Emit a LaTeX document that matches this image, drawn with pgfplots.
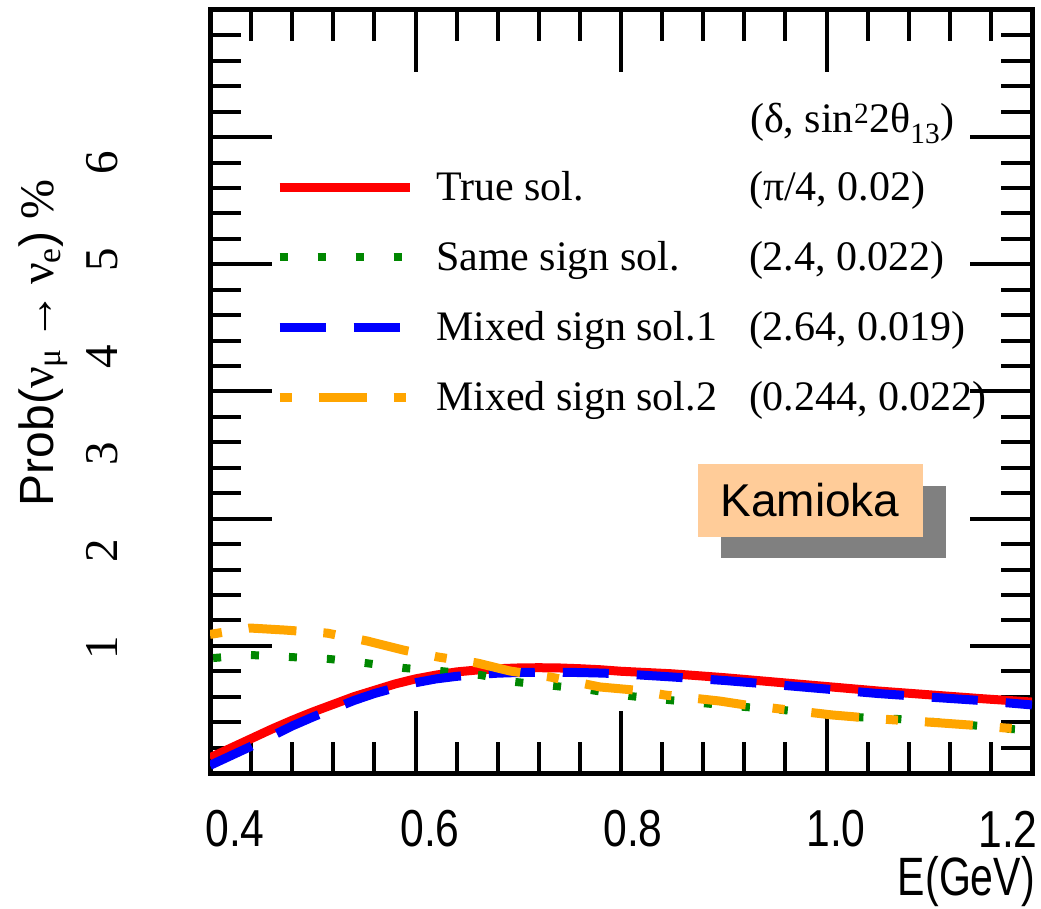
\documentclass[border=0pt]{standalone}
\usepackage{pgfplots}
\pgfplotsset{compat=1.18}
\usepackage{fontspec}
\usepackage{graphicx}
\setmainfont{Liberation Serif}
\setsansfont{Liberation Sans}
\newfontfamily\serif{Liberation Serif}
\newfontfamily\sans{Liberation Sans}
\definecolor{peach}{RGB}{255,204,153}
\definecolor{shadowgray}{RGB}{128,128,128}
\definecolor{myorange}{RGB}{255,165,0}
\definecolor{mygreen}{RGB}{0,135,0}
\definecolor{myblue}{RGB}{0,0,255}
\definecolor{myred}{RGB}{255,0,0}
\begin{document}
\begin{tikzpicture}[x=1pt,y=1pt]
\useasboundingbox (0,0) rectangle (1041,908);
\begin{axis}[
  at={(210pt,135pt)}, anchor=south west,
  scale only axis, width=822pt, height=763pt,
  xmin=0.4, xmax=1.2, ymin=0, ymax=6,
  xtick={0.4,0.6,0.8,1.0,1.2},
  ytick={0,1,2,3,4,5,6},
  minor x tick num=4, minor y tick num=4,
  xticklabels={}, yticklabels={},
  major tick length=62pt, minor tick length=31pt,
  every tick/.style={black, line width=4pt},
  axis line style={line width=5pt},
  legend cell align=left,
  legend image code/.code={\draw[#1] (0pt,3pt) -- (130pt,3pt);},
  legend style={draw=none, fill=none, inner sep=0pt, outer sep=0pt,
    at={(0.0791,0.7900)}, anchor=north west,
    row sep=30pt, column sep=22pt,
    font=\serif\fontsize{42}{48}\selectfont,
    nodes={inner sep=0pt, text height=30pt, text depth=10pt}},
]
\addplot[myred, line width=9pt] coordinates {
(0.40,0.12) (0.42,0.195) (0.44,0.27) (0.46,0.345) (0.48,0.415) (0.50,0.48)
(0.52,0.54) (0.54,0.60) (0.56,0.65) (0.58,0.70) (0.60,0.74) (0.62,0.77)
(0.64,0.795) (0.66,0.81) (0.68,0.82) (0.70,0.826) (0.72,0.828) (0.74,0.826)
(0.76,0.82) (0.78,0.812) (0.80,0.80) (0.85,0.78) (0.90,0.75) (0.95,0.715)
(1.00,0.68) (1.05,0.645) (1.10,0.615) (1.15,0.585) (1.20,0.558)};
\addlegendentry{\makebox[313pt][l]{True sol.}(π/4, 0.02)}
\addplot[mygreen, line width=8pt, dash pattern=on 8pt off 30pt] coordinates {
(0.403,0.904) (0.439,0.928) (0.478,0.912) (0.517,0.896) (0.551,0.865)
(0.588,0.826) (0.624,0.802) (0.663,0.771) (0.697,0.716) (0.736,0.684)
(0.770,0.653) (0.809,0.605) (0.846,0.574) (0.921,0.519) (0.958,0.495)
(1.028,0.440) (1.069,0.425) (1.140,0.377) (1.179,0.346) (1.20,0.335)};
\addlegendentry{\makebox[313pt][l]{Same sign sol.}(2.4, 0.022)}
\addplot[myblue, line width=9pt, dash pattern=on 46pt off 28pt] coordinates {
(0.40,0.06) (0.42,0.135) (0.44,0.21) (0.46,0.29) (0.48,0.37) (0.50,0.44)
(0.52,0.505) (0.54,0.57) (0.56,0.625) (0.58,0.67) (0.60,0.71) (0.62,0.74)
(0.64,0.76) (0.66,0.775) (0.68,0.785) (0.70,0.79) (0.72,0.792) (0.74,0.792)
(0.76,0.79) (0.78,0.786) (0.80,0.78) (0.85,0.755) (0.90,0.728) (0.95,0.695)
(1.00,0.66) (1.05,0.625) (1.10,0.597) (1.15,0.57) (1.20,0.535)};
\addlegendentry{\makebox[313pt][l]{Mixed sign sol.1}(2.64, 0.019)}
\addplot[myorange, line width=9pt, dash pattern=on 12pt off 27pt on 48pt off 27pt] coordinates {
(0.40,1.09) (0.439,1.14) (0.473,1.124) (0.514,1.10) (0.553,1.038)
(0.588,0.967) (0.622,0.912) (0.660,0.865) (0.692,0.802) (0.731,0.755)
(0.780,0.676) (0.812,0.653) (0.843,0.613) (0.896,0.566) (0.921,0.535)
(1.006,0.456) (1.052,0.425) (1.100,0.400) (1.140,0.377) (1.174,0.354) (1.20,0.34)};
\addlegendentry{\makebox[313pt][l]{Mixed sign sol.2}(0.244, 0.022)}
\end{axis}
% legend header
\node[anchor=base west, inner sep=0pt, font=\serif\fontsize{42}{48}\selectfont] at (750,775) {(δ, sin\textsuperscript{2}2θ\textsubscript{13})};
% y tick labels (rotated)
\foreach \lab/\yy in {1/648,2/551,3/454,4/357,5/260,6/163}{
  \node[rotate=90, inner sep=0pt, font=\serif\fontsize{47}{50}\selectfont] at (102,908-\yy) {\lab};
}
% x tick labels
\foreach \lab/\xx in {0.4/235,0.6/430,0.8/633,1.0/836,1.2/1008}{
  \node[inner sep=0pt, font=\sans\fontsize{52}{56}\selectfont] at (\xx,79) {\scalebox{0.82}[1]{\lab}};
}
% x label
\node[anchor=east, inner sep=0pt, font=\sans\fontsize{54}{58}\selectfont] at (1035,26) {\scalebox{0.76}[1]{E(GeV)}};
% y label
\node[rotate=90, inner sep=0pt, font=\fontsize{48}{50}\selectfont] at (43,565) {{\sans Prob(}ν\textsubscript{μ}\,→\,ν\textsubscript{e}{\sans )} \%};
% Kamioka box
\fill[shadowgray] (721,350) rectangle (946,422);
\fill[peach] (698,371) rectangle (923,444);
\node[inner sep=0pt, font=\sans\fontsize{46}{50}\selectfont] at (810,408) {Kamioka};
\end{tikzpicture}
\end{document}
